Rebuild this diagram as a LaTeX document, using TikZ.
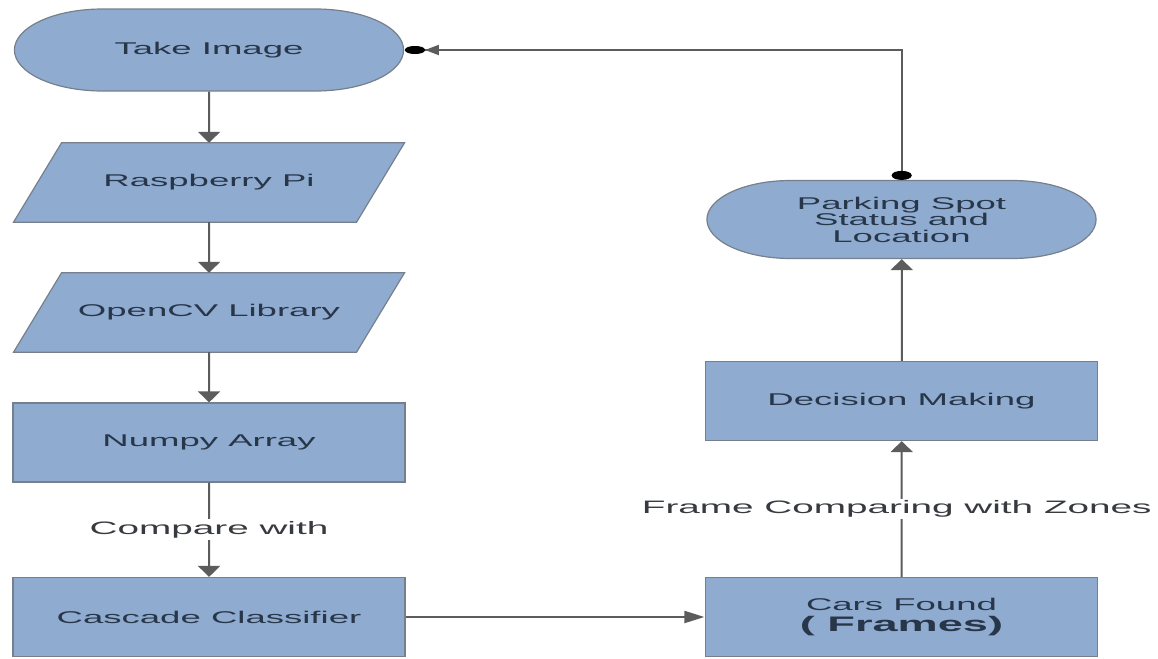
\documentclass[tikz,border=0pt]{standalone}
\usepackage{fontspec}
\setmainfont{Liberation Sans}
\usetikzlibrary{shapes.misc,arrows.meta,calc,backgrounds}
\definecolor{boxfill}{RGB}{143,171,207}
\definecolor{boxline}{RGB}{118,128,140}
\definecolor{txt}{RGB}{40,54,74}
\definecolor{lbltxt}{RGB}{55,58,62}
\definecolor{conn}{RGB}{92,92,92}
\begin{document}
\begin{tikzpicture}[x=0.465116pt, y=-1pt, xscale=2.15, transform shape,
  base/.style={fill=boxfill, draw=boxline, line width=1.2pt, text=txt,
    font=\fontsize{17}{16.5}\selectfont, align=center, inner sep=0pt},
  term/.style={base, rounded rectangle, minimum width=181pt, minimum height=82pt},
  iobox/.style={rectangle, text=txt, font=\fontsize{17}{16.5}\selectfont, align=center,
    inner sep=0pt, minimum width=159.1pt, minimum height=79pt},
  parashape/.style={fill=boxfill, draw=boxline, line width=1.2pt, line join=miter},
  proc/.style={base, rectangle, minimum width=182.3pt, minimum height=79pt},
  lbl/.style={fill=white, text=lbltxt, inner sep=2pt, font=\fontsize{18}{18}\selectfont},
  conline/.style={draw=conn, line width=2pt},
  varr/.style={conline, -{Triangle[length=11pt, width=22pt]}},
  harr/.style={conline, -{Triangle[length=20pt, width=12pt]}},
  fb/.style={conline, {Ellipse[length=9pt, width=20pt, black]}-{Triangle[length=14pt, width=10pt, conn] Ellipse[length=20pt, width=8pt, black]}}
]
\useasboundingbox (0,0) rectangle (1158,659);

\node[term] (take) at (209,50) {Take Image};
\node[iobox] (rp) at (209,182.5) {Raspberry Pi};
\node[iobox] (ocv) at (209,312.5) {OpenCV Library};
\node[proc] (np) at (209,442.5) {Numpy Array};
\node[proc] (cc) at (209,617) {Cascade Classifier};
\node[proc] (cars) at (901.5,617) {Cars Found\\[5pt]{\bfseries\fontsize{21}{21}\selectfont ( Frames)}};
\node[proc] (dm) at (901.5,401) {Decision Making};
\node[term, minimum height=78pt] (ps) at (901.5,219.5) {Parking Spot\\Status and\\Location};

\begin{pgfonlayer}{background}
\fill[white] (0,0) rectangle (1158,659);
\foreach \p in {rp,ocv}{
  \draw[parashape] ($(\p.south west)+(-24,0)$) -- ($(\p.north west)+(24,0)$)
    -- ($(\p.north east)+(24,0)$) -- ($(\p.south east)+(-24,0)$) -- cycle;
}
\end{pgfonlayer}

\draw[varr] (take) -- (rp);
\draw[varr] (rp) -- (ocv);
\draw[varr] (ocv) -- (np);
\draw[varr] (np) -- (cc);
\path (np) -- node[lbl] (cw) {Compare with} (cc);
\draw[harr] (cc) -- (cars);
\draw[varr] (cars) -- (dm);
\path (cars) -- node[lbl, xshift=-2.3] (fcz) {Frame Comparing with Zones} (dm);
\draw[varr] (dm) -- (ps);
\draw[fb] (ps.north) |- (take.east);
\end{tikzpicture}
\end{document}
